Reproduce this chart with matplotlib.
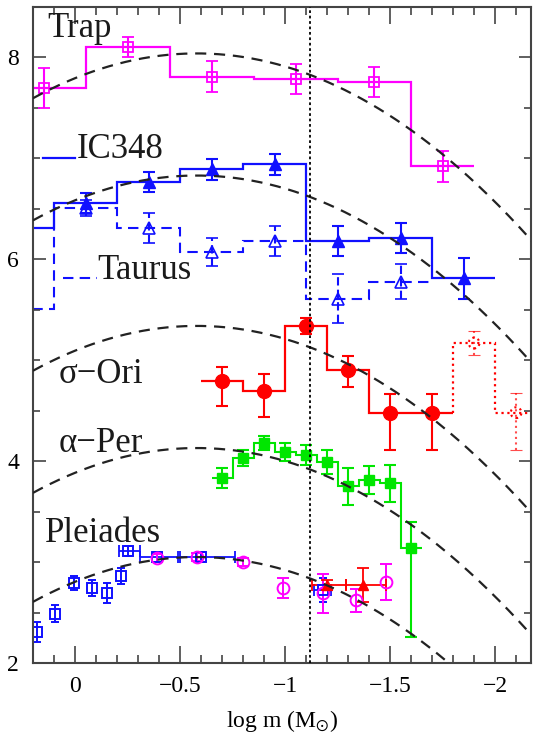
import numpy as np
import matplotlib.pyplot as plt
from matplotlib.ticker import MultipleLocator

plt.rcParams['font.family'] = ['Liberation Serif', 'DejaVu Serif']
plt.rcParams['mathtext.fontset'] = 'stix'

# ---------------------------------------------------------------
# log-normal fits (same width, shifted per cluster)
# ---------------------------------------------------------------
x_peak = -0.58
curv = 0.73
fit_peaks = [8.04, 6.83, 5.34, 4.13, 3.05]   # Trap, IC348, sigma-Ori, alpha-Per, Pleiades

# ---------------------------------------------------------------
# Trapezium
# ---------------------------------------------------------------
trap_edges = [0.35, -0.05, -0.45, -0.85, -1.25, -1.6, -1.9]
trap_vals = [7.70, 8.10, 7.81, 7.79, 7.76, 6.92]
trap_err = [0.20, 0.10, 0.15, 0.15, 0.15, 0.15]

# IC348
ic_edges = [0.4, 0.1, -0.2, -0.5, -0.8, -1.1, -1.4, -1.7, -2.0]
ic_vals = [6.31, 6.56, 6.77, 6.89, 6.94, 6.18, 6.21, 5.81]
ic_err = [0.10, 0.10, 0.10, 0.10, 0.10, 0.15, 0.15, 0.20]

# Taurus
tau_edges = [0.4, 0.1, -0.2, -0.5, -0.8, -1.1, -1.4, -1.7]
tau_vals = [5.51, 6.51, 6.31, 6.07, 6.18, 5.61, 5.78]
tau_err = [0.10, 0.08, 0.15, 0.14, 0.15, 0.24, 0.17]

# sigma Ori (solid part + uncertain low-mass end)
sori_edges = [-0.6, -0.8, -1.0, -1.2, -1.4, -1.6, -1.8]
sori_vals = [4.79, 4.70, 5.34, 4.90, 4.48, 4.48]
sori_lo = [0.24, 0.26, 0.08, 0.17, 0.37, 0.37]
sori_hi = [0.14, 0.16, 0.08, 0.14, 0.19, 0.19]
sori_ext_edges = [-1.8, -2.0, -2.2]
sori_ext_vals = [5.17, 4.48]
sori_ext_lo = [0.12, 0.37]
sori_ext_hi = [0.12, 0.20]

# alpha Per
aper_edges = [-0.65, -0.75, -0.85, -0.95, -1.05, -1.15, -1.25, -1.35, -1.45, -1.55, -1.65]
aper_vals = [3.83, 4.03, 4.18, 4.09, 4.06, 3.99, 3.75, 3.81, 3.78, 3.14]
aper_lo = [0.10, 0.08, 0.07, 0.09, 0.10, 0.12, 0.18, 0.14, 0.18, 0.88]
aper_hi = [0.10, 0.08, 0.07, 0.09, 0.10, 0.12, 0.18, 0.14, 0.18, 0.26]

# Pleiades: blue squares, magenta circles, red triangles
ple_sq_x = [0.18, 0.095, 0.005, -0.08, -0.15, -0.22, -0.25, -0.39, -0.60, -1.18]
ple_sq_y = [2.31, 2.49, 2.79, 2.74, 2.69, 2.86, 3.11, 3.05, 3.05, 2.72]
ple_sq_yerr = [0.10, 0.08, 0.07, 0.08, 0.10, 0.08, 0.05, 0.05, 0.05, 0.12]
ple_sq_xlo = [0, 0, 0, 0, 0, 0, 0.06, 0.10, 0.16, 0.04]
ple_sq_xhi = [0, 0, 0, 0, 0, 0, 0.04, 0.08, 0.10, 0.04]

ple_ci_x = [-0.39, -0.58, -0.80, -0.99, -1.18, -1.34, -1.48]
ple_ci_y = [3.04, 3.05, 3.00, 2.74, 2.69, 2.62, 2.80]
ple_ci_err = [0.04, 0.04, 0.04, 0.10, 0.19, 0.11, 0.18]

ple_tr_x = [-1.20, -1.37]
ple_tr_y = [2.77, 2.77]
ple_tr_yerr = [0.05, 0.17]
ple_tr_xlo = [0.09, 0.11]
ple_tr_xhi = [0.07, 0.08]

h_burning = -1.12

MAG = '#ff00ff'
BLUE = '#1010ff'
RED = '#ff0000'
GREEN = '#00e600'


def centres(edges):
    e = np.asarray(edges)
    return (e[:-1] + e[1:]) / 2


fig = plt.figure(figsize=(5.33, 7.44), dpi=100)
ax = fig.add_axes([33 / 533, 1 - 663 / 744, 498 / 533, 656 / 744])
ax.set_xlim(0.2, -2.171)
ax.set_ylim(2, 8.5)

# dashed log-normal curves
xx = np.linspace(0.2, -2.2, 300)
for a in fit_peaks:
    ax.plot(xx, a - curv * (xx - x_peak) ** 2, color='#222222', lw=1.6,
            ls=(0, (5, 3.5)), zorder=4)

ax.axvline(h_burning, color='black', lw=1.3, ls=(0, (1.5, 1.5)), zorder=5)

eb = dict(capsize=4.5, elinewidth=1.5, capthick=1.5, ls='none')

# Trap
ax.stairs(trap_vals, trap_edges, baseline=None, color=MAG, lw=1.6)
ax.errorbar(centres(trap_edges), trap_vals, yerr=trap_err, marker='s', ms=6.5,
            mfc='none', mec=MAG, mew=1.3, color=MAG, **eb)

# IC348
ax.stairs(ic_vals, ic_edges, baseline=None, color=BLUE, lw=1.6)
ax.errorbar(centres(ic_edges), ic_vals, yerr=ic_err, marker='^', ms=8,
            color=BLUE, **eb)

# Taurus
ax.stairs(tau_vals, tau_edges, baseline=None, color=BLUE, lw=1.5, ls=(0, (5, 3)))
ebt = ax.errorbar(centres(tau_edges), tau_vals, yerr=tau_err, marker='^', ms=8,
                  mfc='none', mec=BLUE, mew=1.2, color=BLUE, **eb)
ebt.lines[2][0].set_linestyle((0, (4, 2)))

# sigma Ori
ax.stairs(sori_vals, sori_edges, baseline=None, color=RED, lw=1.6)
ax.errorbar(centres(sori_edges), sori_vals, yerr=[sori_lo, sori_hi], marker='o',
            ms=10, color=RED, **eb)
ax.stairs(sori_ext_vals, sori_ext_edges, baseline=sori_vals[-1], color=RED,
          lw=1.6, ls=':')
ebs = ax.errorbar(centres(sori_ext_edges), sori_ext_vals,
                  yerr=[sori_ext_lo, sori_ext_hi], color=RED, capsize=4,
                  elinewidth=1.5, capthick=0.8, ls='none', alpha=0.7)
ebs.lines[2][0].set_linestyle(':')
ax.scatter(centres(sori_ext_edges), sori_ext_vals, s=60, facecolors='none',
           edgecolors=RED, linestyles=':', linewidths=1.5, zorder=3)

# alpha Per
ax.stairs(aper_vals, aper_edges, baseline=None, color=GREEN, lw=1.5)
ax.errorbar(centres(aper_edges), aper_vals, yerr=[aper_lo, aper_hi], marker='s',
            ms=7, color=GREEN, **eb)

# Pleiades
ax.errorbar(ple_sq_x, ple_sq_y, yerr=ple_sq_yerr, marker='s', ms=6.5, mfc='none',
            mec=BLUE, mew=1.4, color=BLUE, capsize=3, elinewidth=1.4,
            capthick=1.4, ls='none')
has_xerr = [i for i, v in enumerate(ple_sq_xlo) if v > 0]
ax.errorbar([ple_sq_x[i] for i in has_xerr], [ple_sq_y[i] for i in has_xerr],
            xerr=[[ple_sq_xlo[i] for i in has_xerr], [ple_sq_xhi[i] for i in has_xerr]],
            color=BLUE, capsize=4, elinewidth=1.3, capthick=1.3, ls='none')
ax.errorbar(ple_ci_x, ple_ci_y, yerr=ple_ci_err, marker='o', ms=8.5, mfc='none',
            mec=MAG, mew=1.4, color=MAG, capsize=4, elinewidth=1.4,
            capthick=1.4, ls='none')
ax.errorbar(ple_tr_x, ple_tr_y, yerr=ple_tr_yerr, xerr=[ple_tr_xlo, ple_tr_xhi],
            marker='^', ms=7, color=RED, capsize=4, elinewidth=1.3,
            capthick=1.3, ls='none')

# cluster names
lab = dict(fontsize=25, color='#1a1a1a', va='baseline', ha='left')
ax.text(0.133, 8.20, 'Trap', **lab)
ax.text(-0.01, 7.00, 'IC348', **lab)
ax.plot([0.152, 0.0], [7.0, 7.0], color=BLUE, lw=1.6)
ax.text(-0.105, 5.80, 'Taurus', **lab)
ax.plot([0.057, -0.105], [5.81, 5.81], color=BLUE, lw=1.5, ls=(0, (5, 3)))
ax.text(0.08, 4.77, 'σ−Ori', **lab)
ax.text(0.08, 4.09, 'α−Per', **lab)
ax.text(0.143, 3.20, 'Pleiades', **lab)

ax.xaxis.set_major_locator(MultipleLocator(0.5))
ax.xaxis.set_minor_locator(MultipleLocator(0.1))
ax.yaxis.set_major_locator(MultipleLocator(2))
ax.yaxis.set_minor_locator(MultipleLocator(0.5))
ax.xaxis.set_major_formatter(lambda v, p: f'{v:g}'.replace('-', '\u2212'))
ax.tick_params(which='both', direction='in', top=True, right=True,
               color='#444444', width=1.2, labelsize=17)
ax.tick_params(axis='x', which='major', length=12, pad=9)
ax.tick_params(axis='x', which='minor', length=6)
ax.tick_params(axis='y', which='major', length=9, pad=10)
ax.tick_params(axis='y', which='minor', length=5)
for s in ax.spines.values():
    s.set_color('#444444')
    s.set_linewidth(1.5)

ax.set_xlabel(r'log m (M$_{\odot}$)', fontsize=17, labelpad=8)

fig.savefig('out.png', dpi=100)
